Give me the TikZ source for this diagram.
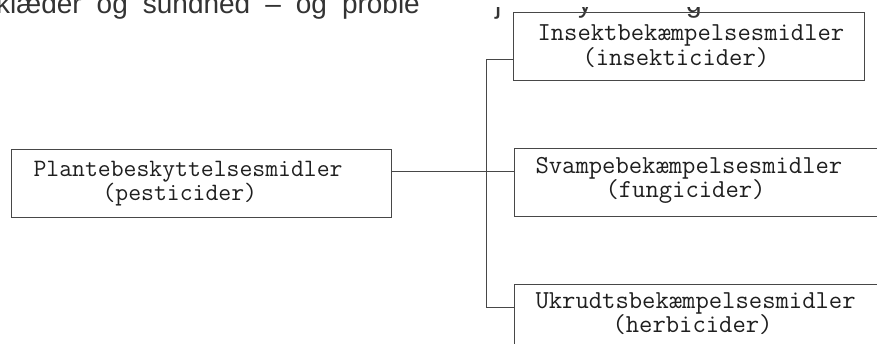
\documentclass[tikz,border=0pt]{standalone}
\usepackage{fontspec}
\setmainfont{Liberation Sans}
\newcommand\dropby[1]{\rule[-#1]{0pt}{#1}}
\begin{document}
\begin{tikzpicture}[x=1pt,y=-1pt,
  box/.style={draw=black!72, line width=1pt, anchor=north west, align=left,
    inner xsep=0pt, inner ysep=0pt, minimum height=68pt, text=black!88},
  bigfont/.style={font=\ttfamily\fontsize{25.9}{22.5}\selectfont},
  leftfont/.style={font=\ttfamily\fontsize{25}{22.5}\selectfont},
  link/.style={draw=black!72, line width=1pt},
  scantext/.style={anchor=base west, inner sep=0pt, text=black!80,
    font=\fontsize{28}{28}\selectfont}]
\useasboundingbox (0,0) rectangle (877,343);
\clip (0,0) rectangle (877,343);

% partly cut-off line of running text at the top
\node[scantext] (toptext) at (-4,13) {\spaceskip=15pt klæder og sundhed – og proble};
\begin{scope}
  \clip (430,7) rectangle (877,30);
  \node[scantext] (tj) at (495,13) {j};
  \node[scantext] (ty) at (578,12) {y};
  \node[scantext] (tg) at (686,12) {g};
\end{scope}

% boxes
\node[box, leftfont, text width=380pt] (L) at (11,149)
  {\hspace*{22pt}Plantebeskyttelsesmidler\\\hspace*{91pt}(pesticider)};
\node[box, bigfont, text width=351pt] (T) at (513,12)
  {\hspace*{24pt}Insektbekæmpelsesmidler\\\hspace*{69pt}(insekticider)};
\node[box, bigfont, text width=400pt] (M) at (514,148)
  {\hspace*{21pt}Svampebekæmpelsesmidler\\\hspace*{91pt}(fungicider)\dropby{10pt}};
\node[box, bigfont, text width=400pt] (B) at (514,284)
  {\hspace*{21pt}Ukrudtsbekæmpelsesmidler\\\hspace*{98pt}(herbicider)\dropby{12pt}};

% connectors
\coordinate (j) at (486,171);
\coordinate (t) at (486,59);
\coordinate (b) at (486,307);
\draw[link] (L.east |- j) -- (M.west |- j);
\draw[link] (t) -- (b);
\draw[link] (t) -- (T.west |- t);
\draw[link] (b) -- (B.west |- b);
\end{tikzpicture}
\end{document}
